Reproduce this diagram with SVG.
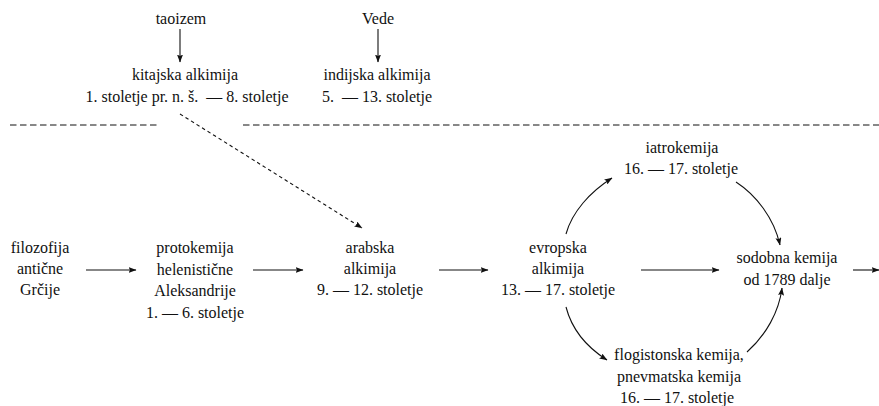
<svg xmlns="http://www.w3.org/2000/svg" width="879" height="406" viewBox="0 0 879 406">
<style>
text{font-family:"Liberation Serif","Times New Roman",serif;font-size:16px;fill:#111;text-anchor:middle}
.c{fill:none;stroke:#111;stroke-width:1.1}
.d{stroke-dasharray:3.5,3}
.sep{fill:none;stroke:#111;stroke-width:1;stroke-dasharray:6.5,3.5}
</style>
<defs>
<marker id="a" markerWidth="8" markerHeight="6" refX="7.5" refY="3" orient="auto" markerUnits="userSpaceOnUse">
<path d="M0,0 L8,3 L0,6 L1.5,3 z" fill="#111"/>
</marker>
</defs>
<g id="n-taoizem"><text x="181" y="24">taoizem</text></g>
<g id="n-vede"><text x="378" y="24">Vede</text></g>
<g id="n-kitajska"><text x="185" y="80">kitajska alkimija</text><text x="187" y="102" xml:space="preserve">1. stoletje pr. n. š.  — 8. stoletje</text></g>
<g id="n-indijska"><text x="377" y="80">indijska alkimija</text><text x="377" y="102" xml:space="preserve">5.  — 13. stoletje</text></g>
<g id="n-filozofija"><text x="40" y="253">filozofija</text><text x="40" y="274">antične</text><text x="40" y="295">Grčije</text></g>
<g id="n-protokemija"><text x="195" y="253">protokemija</text><text x="195" y="274.5">helenistične</text><text x="195" y="296">Aleksandrije</text><text x="195" y="317.5">1. — 6. stoletje</text></g>
<g id="n-arabska"><text x="370" y="253">arabska</text><text x="370" y="274">alkimija</text><text x="370" y="295">9. — 12. stoletje</text></g>
<g id="n-evropska"><text x="558" y="253">evropska</text><text x="558" y="274">alkimija</text><text x="558" y="295">13. — 17. stoletje</text></g>
<g id="n-iatrokemija"><text x="682" y="153">iatrokemija</text><text x="681" y="174">16. — 17. stoletje</text></g>
<g id="n-sodobna"><text x="787" y="263">sodobna kemija</text><text x="787" y="284.5">od 1789 dalje</text></g>
<g id="n-flogistonska"><text x="679" y="360">flogistonska kemija,</text><text x="679" y="381.5">pnevmatska kemija</text><text x="677" y="403">16. — 17. stoletje</text></g>
<g id="separator">
<line class="sep" x1="10" y1="125" x2="160" y2="125"/>
<line class="sep" x1="243" y1="125" x2="879" y2="125"/>
</g>
<g id="connectors">
<line class="c" x1="180" y1="29" x2="180" y2="62" marker-end="url(#a)"/>
<line class="c" x1="378" y1="29" x2="378" y2="62" marker-end="url(#a)"/>
<line class="c d" x1="180" y1="114" x2="362" y2="228" marker-end="url(#a)"/>
<line class="c" x1="86" y1="270" x2="136" y2="270" marker-end="url(#a)"/>
<line class="c" x1="253" y1="270" x2="303" y2="270" marker-end="url(#a)"/>
<line class="c" x1="439" y1="270" x2="488" y2="270" marker-end="url(#a)"/>
<line class="c" x1="641" y1="270" x2="719" y2="270" marker-end="url(#a)"/>
<line class="c" x1="853" y1="270" x2="879" y2="270" marker-end="url(#a)"/>
<path class="c" d="M566,234 C572,212 590,192 612,178" marker-end="url(#a)"/>
<path class="c" d="M736,182 C756,195 774,218 780,245" marker-end="url(#a)"/>
<path class="c" d="M566,307 C572,330 588,348 607,360" marker-end="url(#a)"/>
<path class="c" d="M747,352 C766,335 779,312 782,288" marker-end="url(#a)"/>
</g>
</svg>
